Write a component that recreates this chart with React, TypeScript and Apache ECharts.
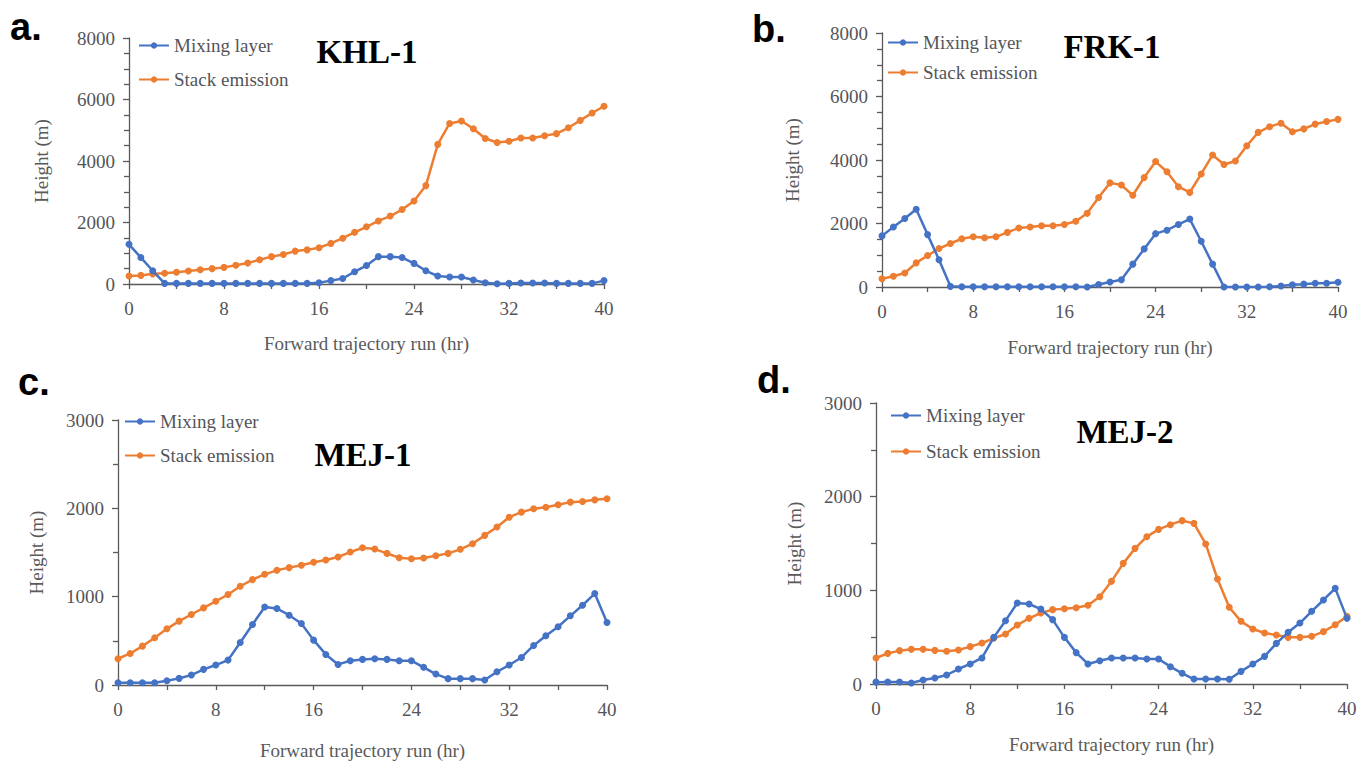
import React, { useEffect, useRef } from "react";
import * as echarts from "echarts";

const hours = [0, 1, 2, 3, 4, 5, 6, 7, 8, 9, 10, 11, 12, 13, 14, 15, 16, 17, 18, 19, 20, 21, 22, 23, 24, 25, 26, 27, 28, 29, 30, 31, 32, 33, 34, 35, 36, 37, 38, 39, 40];

const khlMixing = [1290, 860, 430, 20, 20, 20, 20, 20, 20, 20, 20, 20, 20, 20, 20, 20, 40, 110, 180, 400, 600, 890, 890, 860, 670, 430, 260, 230, 230, 130, 40, 10, 20, 30, 30, 30, 20, 20, 20, 20, 110];
const khlStack = [260, 280, 330, 350, 380, 420, 465, 500, 540, 610, 680, 790, 890, 960, 1070, 1110, 1180, 1320, 1490, 1680, 1860, 2050, 2210, 2420, 2700, 3200, 4540, 5220, 5300, 5050, 4730, 4600, 4640, 4750, 4750, 4820, 4890, 5080, 5320, 5560, 5780];

const frkMixing = [1610, 1890, 2160, 2450, 1650, 860, 20, 10, 10, 10, 10, 10, 10, 10, 10, 10, 10, 10, 0, 80, 160, 230, 720, 1200, 1680, 1790, 1970, 2140, 1440, 720, 0, 0, 0, 0, 10, 30, 70, 90, 120, 120, 150];
const frkStack = [260, 340, 440, 760, 990, 1210, 1370, 1520, 1580, 1550, 1580, 1720, 1860, 1890, 1930, 1930, 1970, 2070, 2320, 2820, 3280, 3210, 2890, 3450, 3950, 3630, 3160, 2980, 3560, 4160, 3860, 3970, 4450, 4870, 5050, 5160, 4890, 4980, 5130, 5210, 5280];

const mej1Mixing = [26, 26, 26, 26, 49, 75, 113, 177, 226, 282, 482, 685, 884, 866, 790, 696, 508, 346, 233, 275, 290, 297, 290, 275, 275, 200, 124, 72, 72, 72, 56, 150, 226, 312, 448, 557, 659, 783, 903, 1035, 708];
const mej1Stack = [297, 357, 440, 534, 636, 723, 798, 873, 948, 1024, 1118, 1193, 1253, 1298, 1329, 1355, 1389, 1415, 1449, 1505, 1554, 1539, 1490, 1441, 1430, 1438, 1464, 1490, 1536, 1600, 1694, 1788, 1900, 1957, 1995, 2013, 2040, 2070, 2078, 2096, 2108];

const mej2Mixing = [20, 21, 21, 11, 43, 64, 96, 160, 214, 278, 498, 676, 865, 854, 800, 687, 498, 335, 214, 249, 278, 278, 278, 267, 267, 185, 114, 53, 53, 53, 50, 135, 214, 295, 434, 552, 651, 776, 897, 1021, 701];
const mej2Stack = [278, 327, 356, 370, 370, 359, 349, 363, 399, 438, 488, 534, 630, 701, 758, 794, 804, 815, 840, 932, 1096, 1288, 1448, 1573, 1651, 1701, 1744, 1715, 1495, 1121, 819, 669, 587, 544, 523, 498, 498, 509, 559, 633, 722];

const seriesNames = ["Mixing layer", "Stack emission"];
const panelLetters = ["a.", "b.", "c.", "d."];
const panelTitles = ["KHL-1", "FRK-1", "MEJ-1", "MEJ-2"];
const yMaxes = [8000, 8000, 3000, 3000];
const yIntervals = [2000, 2000, 1000, 1000];
const yMinorSplits = [4, 4, 2, 2];
const xTitle = "Forward trajectory run (hr)";
const yTitle = "Height (m)";

const BLUE = "#4472C4";
const ORANGE = "#ED7D31";
const SERIF = "Liberation Serif";
const SANS = "Liberation Sans";

export default function App() {
  const ref = useRef<HTMLDivElement>(null);

  useEffect(() => {
    if (!ref.current) return;
    const chart = echarts.init(ref.current, null, { renderer: "svg" });

    const grids = [
      { left: 129, top: 38, width: 475, height: 246 },
      { left: 882, top: 33, width: 456, height: 254 },
      { left: 118, top: 420, width: 489, height: 265 },
      { left: 876, top: 403, width: 471, height: 281 },
    ];
    const yNameGaps = [78, 80, 72, 72];
    const xNameGaps = [50, 51, 56, 51];
    const legendPos = [
      { left: 138, top: 36 },
      { left: 887, top: 33 },
      { left: 124, top: 412 },
      { left: 890, top: 406 },
    ];
    const legendGaps = [15, 11, 15, 17];
    const data = [
      [khlMixing, khlStack],
      [frkMixing, frkStack],
      [mej1Mixing, mej1Stack],
      [mej2Mixing, mej2Stack],
    ];
    const titlePos = [
      [367, 52],
      [1112, 47],
      [363, 455],
      [1125, 432],
    ];
    const letterPos = [
      [10, 27],
      [752, 29],
      [18, 382],
      [757, 380],
    ];

    const axisColor = "#5a5a5a";
    const fontStyle = { fontFamily: SERIF, fontSize: 19 };

    const xAxes = grids.map((_, i) => ({
      type: "value",
      gridIndex: i,
      min: 0,
      max: 40,
      interval: 8,
      name: xTitle,
      nameLocation: "middle",
      nameGap: xNameGaps[i],
      nameTextStyle: { ...fontStyle },
      axisLine: { show: true, onZero: false, lineStyle: { color: axisColor, width: 1.3 } },
      axisTick: { show: true, length: 5, lineStyle: { color: axisColor, width: 1.3 } },
      minorTick: { show: true, splitNumber: 2, length: 5, lineStyle: { color: axisColor, width: 1.3 } },
      axisLabel: { ...fontStyle, margin: 15, formatter: (v: number) => String(v) },
      splitLine: { show: false },
      minorSplitLine: { show: false },
    }));

    const yAxes = grids.map((_, i) => ({
      type: "value",
      gridIndex: i,
      min: 0,
      max: yMaxes[i],
      interval: yIntervals[i],
      name: yTitle,
      nameLocation: "middle",
      nameGap: yNameGaps[i],
      nameTextStyle: { ...fontStyle },
      axisLine: { show: true, lineStyle: { color: axisColor, width: 1.3 } },
      axisTick: { show: true, length: 6, lineStyle: { color: axisColor, width: 1.3 } },
      minorTick: { show: true, splitNumber: yMinorSplits[i], length: 5, lineStyle: { color: axisColor, width: 1.3 } },
      axisLabel: { ...fontStyle, margin: 14, formatter: (v: number) => String(v) },
      splitLine: { show: false },
      minorSplitLine: { show: false },
    }));

    const series: any[] = [];
    data.forEach((pair, i) => {
      pair.forEach((vals, k) => {
        series.push({
          type: "line",
          name: seriesNames[k],
          xAxisIndex: i,
          yAxisIndex: i,
          data: hours.map((h, j) => [h, vals[j]]),
          symbol: "circle",
          symbolSize: 7,
          itemStyle: { color: k === 0 ? BLUE : ORANGE },
          lineStyle: { color: k === 0 ? BLUE : ORANGE, width: 2.5 },
          z: k === 0 ? 3 : 2,
        });
      });
    });

    const legends = legendPos.map((p, i) => ({
      left: p.left,
      top: p.top,
      orient: "vertical",
      itemGap: legendGaps[i],
      itemWidth: 30,
      itemHeight: 8,
      padding: 0,
      data: seriesNames,
      textStyle: { ...fontStyle },
    }));

    const graphics: any[] = [];
    panelTitles.forEach((t, i) => {
      graphics.push({
        type: "text",
        x: titlePos[i][0],
        y: titlePos[i][1],
        style: {
          text: t,
          font: `bold 33px ${SERIF}`,
          fill: "#000",
          textAlign: "center",
          textVerticalAlign: "middle",
        },
      });
    });
    panelLetters.forEach((t, i) => {
      graphics.push({
        type: "text",
        x: letterPos[i][0],
        y: letterPos[i][1],
        style: {
          text: t,
          font: `bold 38px ${SANS}`,
          fill: "#000",
          textAlign: "left",
          textVerticalAlign: "middle",
        },
      });
    });

    chart.setOption({
      animation: false,
      backgroundColor: "#ffffff",
      grid: grids.map((g) => ({ ...g, containLabel: false })),
      xAxis: xAxes,
      yAxis: yAxes,
      legend: legends,
      series,
      graphic: graphics,
    });

    return () => chart.dispose();
  }, []);

  return (
    <div
      ref={ref}
      style={{ position: "fixed", left: 0, top: 0, width: 1361, height: 761, background: "#fff" }}
    />
  );
}
